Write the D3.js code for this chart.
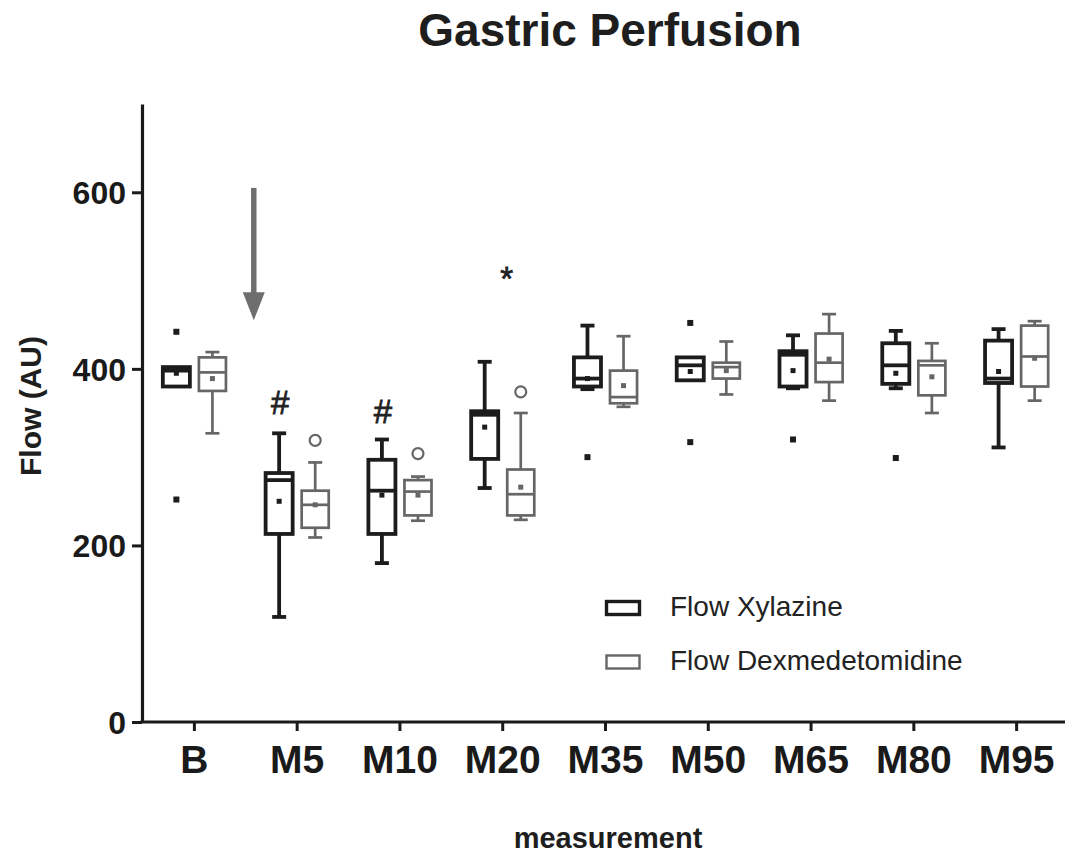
<!DOCTYPE html>
<html><head><meta charset="utf-8">
<script src="https://cdn.jsdelivr.net/npm/d3@7"></script>
<style>body{margin:0;background:#fff}svg{display:block}</style>
</head><body>
<svg id="chart" width="1065" height="857"></svg>
<script>
const categories = ["B","M5","M10","M20","M35","M50","M65","M80","M95"];
const seriesNames = ["Flow Xylazine","Flow Dexmedetomidine"];
const yTicks = [0,200,400,600];

const xylMin  = [380,119,180,265,377,387,378,378,311];
const xylQ1   = [380,213,213,298,380,387,380,383,384];
const xylMed  = [398,274,262,348,389,404,416,404,389];
const xylQ3   = [402,282,297,352,413,413,420,429,432];
const xylMax  = [402,327,320,408,449,413,438,443,445];
const xylMean = [395,250,257,334,389,397,398,395,397];
const xylOut  = [[442,252],[],[],[],[300],[452,317],[320],[299],[]];

const dexMin  = [327,209,228,229,357,371,364,350,364];
const dexQ1   = [375,220,234,234,361,389,385,370,380];
const dexMed  = [396,246,261,258,368,402,407,404,414];
const dexQ3   = [413,262,274,286,398,407,440,409,449];
const dexMax  = [419,294,278,350,437,431,462,429,454];
const dexMean = [389,246,257,266,381,398,411,391,412];
const dexOut  = [[],[319],[304],[374],[],[],[],[],[]];

const annotations = [["M5","#",349],["M10","#",339],["M20","*",489]];
const arrowFrom = 605, arrowTo = 455;

const svg = d3.select("#chart");
const font = "Liberation Sans, Arial, sans-serif";
const x = d3.scaleBand().domain(categories).range([143,1068]);
const sub = d3.scaleBand().domain([0,1]).range([0,x.bandwidth()]).paddingInner(0.25).paddingOuter(0.55);
const y = d3.scaleLinear().domain([0,700]).range([722,104]);

const series = [
  {min:xylMin,q1:xylQ1,med:xylMed,q3:xylQ3,max:xylMax,mean:xylMean,out:xylOut,color:"#1c1c1c",sw:3.8,circ:false},
  {min:dexMin,q1:dexQ1,med:dexMed,q3:dexQ3,max:dexMax,mean:dexMean,out:dexOut,color:"#666666",sw:2.7,circ:true}
];

// Title
svg.append("text").attr("x",610).attr("y",46).attr("text-anchor","middle")
  .attr("font-family",font).attr("font-weight","bold").attr("font-size",46).attr("fill","#1e1e1e")
  .text("Gastric Perfusion");

// Axes
const yAxis = d3.axisLeft(y).tickValues(yTicks).tickSize(10).tickSizeOuter(0).tickPadding(6);
const gy = svg.append("g").attr("transform","translate(142,0)").call(yAxis);
gy.select(".domain").attr("stroke","#1a1a1a").attr("stroke-width",3.2);
gy.selectAll(".tick line").attr("stroke","#1a1a1a").attr("stroke-width",3);
gy.selectAll(".tick text").attr("font-family",font).attr("font-weight","bold").attr("font-size",32).attr("fill","#1a1a1a").attr("dy","0.36em");

const xAxis = d3.axisBottom(x).tickSize(9).tickSizeOuter(0).tickPadding(14);
const gx = svg.append("g").attr("transform","translate(0,722)").call(xAxis);
gx.select(".domain").attr("stroke","#1a1a1a").attr("stroke-width",3.2).attr("d","M140.4,0H1065");
gx.selectAll(".tick line").attr("stroke","#1a1a1a").attr("stroke-width",3);
gx.selectAll(".tick text").attr("font-family",font).attr("font-weight","bold").attr("font-size",39).attr("fill","#1a1a1a");

svg.append("text").attr("transform","translate(41,406) rotate(-90)").attr("text-anchor","middle")
  .attr("font-family",font).attr("font-weight","bold").attr("font-size",30).attr("fill","#1e1e1e").text("Flow (AU)");
svg.append("text").attr("x",608).attr("y",848).attr("text-anchor","middle")
  .attr("font-family",font).attr("font-weight","bold").attr("font-size",29).attr("fill","#1e1e1e").text("measurement");

// Boxes
const bw = sub.bandwidth(), capW = 14;
series.forEach((s,si)=>{
  const g = svg.append("g");
  categories.forEach((c,i)=>{
    const cx = x(c)+sub(si)+bw/2;
    const line = (x1,y1,x2,y2)=>g.append("line").attr("x1",x1).attr("y1",y1).attr("x2",x2).attr("y2",y2)
      .attr("stroke",s.color).attr("stroke-width",s.sw);
    if (s.max[i]>s.q3[i]) { line(cx,y(s.max[i]),cx,y(s.q3[i])); line(cx-capW/2,y(s.max[i]),cx+capW/2,y(s.max[i])); }
    if (s.min[i]<s.q1[i]) { line(cx,y(s.q1[i]),cx,y(s.min[i])); line(cx-capW/2,y(s.min[i]),cx+capW/2,y(s.min[i])); }
    g.append("rect").attr("x",cx-bw/2).attr("y",y(s.q3[i])).attr("width",bw).attr("height",y(s.q1[i])-y(s.q3[i]))
      .attr("fill","none").attr("stroke",s.color).attr("stroke-width",s.sw);
    line(cx-bw/2,y(s.med[i]),cx+bw/2,y(s.med[i]));
    g.append("rect").attr("x",cx-2.5).attr("y",y(s.mean[i])-2.5).attr("width",5).attr("height",5).attr("fill",s.color);
    s.out[i].forEach(v=>{
      if (s.circ) g.append("circle").attr("cx",cx).attr("cy",y(v)).attr("r",5.5).attr("fill","none").attr("stroke",s.color).attr("stroke-width",2.2);
      else g.append("rect").attr("x",cx-3).attr("y",y(v)-3).attr("width",6).attr("height",6).attr("fill",s.color);
    });
  });
});

// annotations
annotations.forEach(([c,t,v])=>{
  svg.append("text").attr("x",x(c)+sub(0)+bw/2+(t==="*"?22:1)).attr("y",y(v)).attr("text-anchor","middle")
    .attr("font-family",font).attr("font-size",33).attr("fill","#222")
    .attr("stroke","#222").attr("stroke-width",0.8).text(t);
});

// arrow
const ax = (x("B")+x("M5")+x.bandwidth())/2+8;
svg.append("line").attr("x1",ax).attr("x2",ax).attr("y1",y(arrowFrom)).attr("y2",y(arrowTo)-24)
  .attr("stroke","#6e6e6e").attr("stroke-width",5.5);
svg.append("path").attr("d",`M${ax-11},${y(arrowTo)-28}L${ax+11},${y(arrowTo)-28}L${ax},${y(arrowTo)}Z`).attr("fill","#6e6e6e");

// legend
const leg = svg.append("g").attr("transform","translate(605,600)");
series.forEach((s,i)=>{
  const gg = leg.append("g").attr("transform",`translate(0,${i*54})`);
  gg.append("rect").attr("x",1.5).attr("y",1.5).attr("width",33).attr("height",13).attr("fill","none").attr("stroke",s.color).attr("stroke-width",i===0?3.4:2.4);
  gg.append("text").attr("x",65).attr("y",16).attr("font-family",font).attr("font-size",28).attr("fill","#222").text(seriesNames[i]);
});
</script>
</body></html>
